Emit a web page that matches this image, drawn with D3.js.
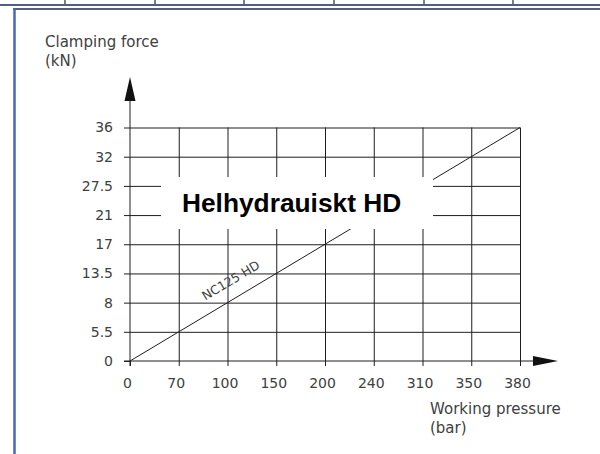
<!DOCTYPE html>
<html>
<head>
<meta charset="utf-8">
<script src="https://cdn.jsdelivr.net/npm/d3@7"></script>
<style>
  html, body { margin: 0; padding: 0; background: #fff; }
  svg { display: block; }
  .lbl { font-family: "DejaVu Sans", sans-serif; font-weight: normal; fill: #404040; }
</style>
</head>
<body>
<svg id="chart" width="600" height="454"></svg>
<script>
// ---- data ----
const pressureTicks = [0, 70, 100, 150, 200, 240, 310, 350, 380];   // bar
const forceTicks = [0, 5.5, 8, 13.5, 17, 21, 27.5, 32, 36];          // kN
const seriesName = "NC125 HD";
const seriesPressure = [0, 70, 100, 150, 200, 240, 310, 350, 380];
const seriesForce = [0, 5.5, 8, 13.5, 17, 21, 27.5, 32, 36];
const title = "Helhydrauiskt HD";
const yTitle = ["Clamping force", "(kN)"];
const xTitle = ["Working pressure", "(bar)"];
const headerCells = [65, 155, 244, 334, 424, 513];

const svg = d3.select("#chart");
const W = 600, H = 454;

// ---- frame ----
const frameColor = "#4e5f8c";
svg.append("line").attr("x1", 0).attr("x2", W).attr("y1", 5).attr("y2", 5)
  .attr("stroke", frameColor).attr("stroke-width", 2);
svg.selectAll("line.sep").data(headerCells).join("line").attr("class", "sep")
  .attr("x1", d => d).attr("x2", d => d).attr("y1", 0).attr("y2", 4)
  .attr("stroke", "#555").attr("stroke-width", 1.5);
svg.append("line").attr("x1", 13).attr("x2", W).attr("y1", 9).attr("y2", 9)
  .attr("stroke", frameColor).attr("stroke-width", 2);
svg.append("line").attr("x1", 14.5).attr("x2", 14.5).attr("y1", 8).attr("y2", H)
  .attr("stroke", "#4a67b8").attr("stroke-width", 2.5);

// ---- scales ----
const x = d3.scalePoint().domain(pressureTicks).range([130, 520]);
const y = d3.scalePoint().domain(forceTicks).range([361, 127.5]);
const x0 = x(pressureTicks[0]), y0 = y(forceTicks[0]);
const xEnd = x(pressureTicks[pressureTicks.length - 1]);
const yEnd = y(forceTicks[forceTicks.length - 1]);
const ink = "#1e1e1e";

// grid (axes with long ticks, no labels)
const gridX = svg.append("g").attr("transform", `translate(0,${y0})`)
  .call(d3.axisBottom(x).tickValues(pressureTicks.slice(1)).tickSizeInner(-(y0 - yEnd)).tickSizeOuter(0).tickFormat(""));
const gridY = svg.append("g").attr("transform", `translate(${x0},0)`)
  .call(d3.axisLeft(y).tickValues(forceTicks.slice(1)).tickSizeInner(-(xEnd - x0)).tickSizeOuter(0).tickFormat(""));
[gridX, gridY].forEach(g => {
  g.select(".domain").remove();
  g.selectAll(".tick line").attr("stroke", ink).attr("stroke-width", 1);
});

// axes with short ticks and labels
const axX = svg.append("g").attr("transform", `translate(0,${y0})`)
  .call(d3.axisBottom(x).tickSizeInner(5).tickSizeOuter(0).tickPadding(12));
const axY = svg.append("g").attr("transform", `translate(${x0},0)`)
  .call(d3.axisLeft(y).tickSizeInner(6).tickSizeOuter(0).tickPadding(11));
[axX, axY].forEach(g => {
  g.select(".domain").remove();
  g.attr("font-family", null).attr("font-size", null);
  g.selectAll(".tick line").attr("stroke", ink).attr("stroke-width", 1);
  g.selectAll(".tick text").attr("class", "lbl").attr("font-size", 14).attr("fill", null);
});
axX.selectAll(".tick text").attr("dx", -3);

// axis lines with arrows
const xArrowBase = 533, xArrowTip = 558, yArrowBase = 101, yArrowTip = 77;
svg.append("line").attr("x1", x0 - 6).attr("x2", xArrowBase + 2).attr("y1", y0).attr("y2", y0)
  .attr("stroke", ink).attr("stroke-width", 1);
svg.append("line").attr("x1", x0).attr("x2", x0).attr("y1", y0 + 5).attr("y2", yArrowBase - 2)
  .attr("stroke", ink).attr("stroke-width", 1);
svg.append("path")
  .attr("d", `M${xArrowBase},${y0 - 5} L${xArrowTip},${y0} L${xArrowBase},${y0 + 5} Z`)
  .attr("fill", "#111");
svg.append("path")
  .attr("d", `M${x0 - 5.5},${yArrowBase} L${x0},${yArrowTip} L${x0 + 5.5},${yArrowBase} Z`)
  .attr("fill", "#111");

// series line
const pts = seriesPressure.map((p, i) => [x(p), y(seriesForce[i])]);
svg.append("path").datum(pts)
  .attr("d", d3.line())
  .attr("fill", "none").attr("stroke", ink).attr("stroke-width", 1);

// series label, along the line between 100 and 150 bar
const a = pts[2], b = pts[3];
const ang = Math.atan2(b[1] - a[1], b[0] - a[0]) * 180 / Math.PI;
const lx = a[0] + (b[0] - a[0]) * 0.25, ly = a[1] + (b[1] - a[1]) * 0.25;
svg.append("text").attr("class", "lbl")
  .attr("transform", `translate(${lx},${ly}) rotate(${ang})`)
  .attr("y", -13).attr("text-anchor", "middle").attr("font-size", 12.5)
  .text(seriesName);

// title box
svg.append("rect").attr("x", 161).attr("y", 177).attr("width", 272).attr("height", 52)
  .attr("fill", "#fff");
svg.append("text").attr("x", 182).attr("y", 212)
  .attr("font-family", "'Liberation Sans', Arial, sans-serif").attr("font-weight", "bold")
  .attr("font-size", 26.3).attr("fill", "#000").text(title);

// axis titles
svg.append("text").attr("class", "lbl").attr("font-size", 15).attr("x", 45).attr("y", 46.5)
  .selectAll("tspan").data(yTitle).join("tspan")
  .attr("x", 45).attr("dy", (d, i) => i === 0 ? 0 : 19.5).text(d => d);
svg.append("text").attr("class", "lbl").attr("font-size", 15).attr("x", 430).attr("y", 414)
  .selectAll("tspan").data(xTitle).join("tspan")
  .attr("x", 430).attr("dy", (d, i) => i === 0 ? 0 : 19).text(d => d);
</script>
</body>
</html>
